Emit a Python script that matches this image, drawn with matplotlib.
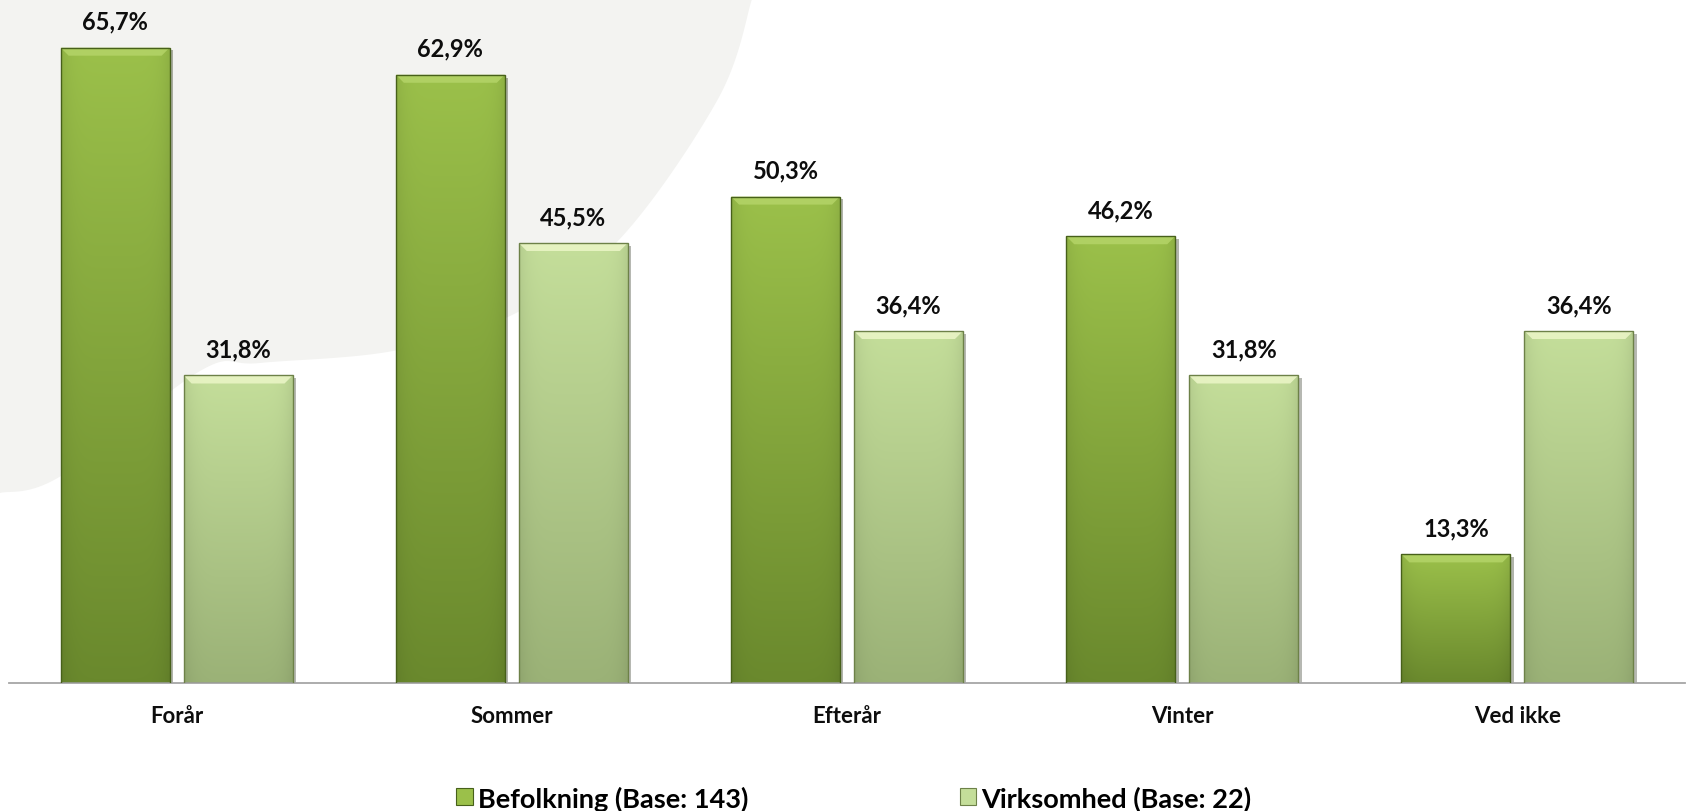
import numpy as np
import matplotlib.pyplot as plt
import matplotlib.patheffects as pe
from matplotlib.patches import Polygon, Patch, Rectangle

plt.rcParams['font.family'] = ['Lato', 'DejaVu Sans']

categories = ["Forår", "Sommer", "Efterår", "Vinter", "Ved ikke"]
befolkning = [65.7, 62.9, 50.3, 46.2, 13.3]
virksomhed = [31.8, 45.5, 36.4, 31.8, 36.4]
series_names = ["Befolkning (Base: 143)", "Virksomhed (Base: 22)"]

W, H = 1687, 812
fig = plt.figure(figsize=(W / 100, H / 100), dpi=100)
fig.patch.set_facecolor('white')


def catmull(pts, n=20):
    pts = np.asarray(pts, float)
    p = np.vstack([pts[0], pts, pts[-1]])
    out = []
    for i in range(1, len(p) - 2):
        p0, p1, p2, p3 = p[i - 1], p[i], p[i + 1], p[i + 2]
        for t in np.linspace(0, 1, n, endpoint=False):
            t2, t3 = t * t, t * t * t
            out.append(0.5 * ((2 * p1) + (-p0 + p2) * t +
                              (2 * p0 - 5 * p1 + 4 * p2 - p3) * t2 +
                              (-p0 + 3 * p1 - 3 * p2 + p3) * t3))
    out.append(pts[-1])
    return np.array(out)


# grey swoosh in the background (pixel coords, from top left)
edge = [(752, 0), (718, 100), (617, 243), (510, 317), (393, 352),
        (260, 364), (200, 372), (61, 477), (0, 494)]
curve = catmull(edge)
shape = np.vstack([[(0, 0)], curve, [(0, 0)]])
shape = np.column_stack([shape[:, 0] / W, 1 - shape[:, 1] / H])
fig.add_artist(Polygon(shape, closed=True, transform=fig.transFigure,
                       fc='#f3f3f1', ec='none', zorder=0))

base_px = 684
ax = fig.add_axes([9 / W, (H - base_px) / H, 1676 / W, base_px / H])
ax.set_facecolor('none')
ymax = base_px / 9.67
ax.set_xlim(-0.5, len(categories) - 0.5)
ax.set_ylim(0, ymax)
dx = (len(categories)) / 1676.0
dy = ymax / base_px

for s in ['left', 'right', 'top']:
    ax.spines[s].set_visible(False)
ax.spines['bottom'].set_color('#a6a6a6')
ax.spines['bottom'].set_linewidth(1.3)
ax.set_xticks([])
ax.set_yticks([])

styles = [
    dict(top='#9bc04a', bot='#6a892d', bevel='#b4d468', edge='#47601a'),
    dict(top='#c4de9a', bot='#9bb277', bevel='#ecf6c8', edge='#6d8148'),
]

x = np.arange(len(categories))
off, w = 0.1834, 0.325
for k, vals in enumerate([befolkning, virksomhed]):
    st = styles[k]
    bars = ax.bar(x + (2 * k - 1) * off, vals, w, color=st['bot'], zorder=2,
                  path_effects=[pe.SimplePatchShadow(offset=(2.5, -2), alpha=0.35),
                                pe.Normal()])
    ctop = np.array(plt.matplotlib.colors.to_rgb(st['top']))
    cbot = np.array(plt.matplotlib.colors.to_rgb(st['bot']))
    t = np.linspace(0, 1, 80)[:, None, None]
    u = np.linspace(0, 1, 40)[None, :, None]
    img = ctop * (1 - t) + cbot * t
    img = img * (1 - 0.07 * np.abs(2 * u - 1) ** 6)
    for r, v in zip(bars, vals):
        x0, bw, h = r.get_x(), r.get_width(), r.get_height()
        im = ax.imshow(np.clip(img, 0, 1), extent=(x0, x0 + bw, 0, h),
                       aspect='auto', origin='upper', zorder=2.5,
                       interpolation='bilinear')
        im.set_clip_path(r)
        bx, by = 8 * dx, 8 * dy
        ax.add_patch(Polygon([(x0, h), (x0 + bw, h), (x0 + bw - bx, h - by),
                              (x0 + bx, h - by)], closed=True,
                             fc=st['bevel'], ec='none', alpha=0.85, zorder=2.6))
        ax.add_patch(Rectangle((x0, 0), bw, h, fill=False, ec=st['edge'],
                               lw=1.0, zorder=2.7))
        ax.annotate(f"{v:.1f}".replace('.', ',') + '%', xy=(x0 + bw / 2, h),
                    xytext=(0, 19), textcoords='offset pixels',
                    ha='center', va='baseline', fontsize=17,
                    fontweight='bold', color='#0d0d0d', annotation_clip=False)

ax.set_xlim(-0.5, len(categories) - 0.5)
ax.set_ylim(0, ymax)

for i, c in enumerate(categories):
    ax.annotate(c, xy=(i, 0), xytext=(0, -39), textcoords='offset pixels',
                ha='center', va='baseline', fontsize=16, fontweight='bold',
                color='#0d0d0d', annotation_clip=False)

handles = [Patch(fc=styles[0]['top'], ec=styles[0]['edge'], lw=0.8),
           Patch(fc=styles[1]['top'], ec=styles[1]['edge'], lw=0.8)]
leg = fig.legend(handles, series_names, loc='center', ncol=2,
                 bbox_to_anchor=(854 / W, 13 / H), frameon=False,
                 prop={'size': 19.5, 'weight': 'bold'},
                 handlelength=0.6, handleheight=0.6, handletextpad=0.2,
                 columnspacing=7.8, borderpad=0)

fig.savefig('out.png', dpi=100)
